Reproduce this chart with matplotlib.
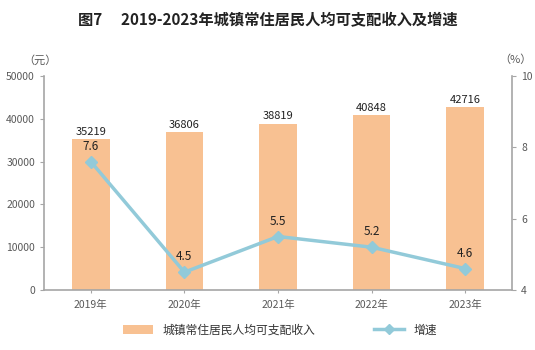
import matplotlib
matplotlib.use("Agg")
import matplotlib.pyplot as plt
from matplotlib.patches import Patch
from matplotlib.lines import Line2D

plt.rcParams['font.family'] = ['Noto Sans CJK SC', 'DejaVu Sans']

years = ["2019年", "2020年", "2021年", "2022年", "2023年"]
income = [35219, 36806, 38819, 40848, 42716]
growth = [7.6, 4.5, 5.5, 5.2, 4.6]

bar_color = "#F8C192"
line_color = "#92CAD9"
axis_color = "#A6A6A6"
tick_color = "#595959"

fig = plt.figure(figsize=(5.35, 3.5), dpi=100)
ax = fig.add_axes([44/535, 1-290/350, 468/535, 214/350])
ax2 = ax.twinx()

x = list(range(len(years)))
ax.bar(x, income, width=0.4, color=bar_color, zorder=2)
for xi, v in zip(x, income):
    ax.text(xi, v + 600, str(v), ha="center", va="bottom", fontsize=8, color="#222222")

ax2.plot(x, growth, color=line_color, lw=2.5, marker="D", ms=6, zorder=3)
for xi, g in zip(x, growth):
    ax2.text(xi, g + 0.25, f"{g}", ha="center", va="bottom", fontsize=8.5, color="#222222")

ax.set_xlim(-0.5, 4.5)
ax.set_ylim(0, 50000)
ax.set_yticks(range(0, 50001, 10000))
ax2.set_ylim(4, 10)
ax2.set_yticks([4, 6, 8, 10])

ax.set_xticks(x)
ax.set_xticklabels(years)

for a in (ax, ax2):
    a.spines["top"].set_visible(False)
    for s in ("left", "right", "bottom"):
        a.spines[s].set_color(axis_color)
        a.spines[s].set_linewidth(1.2)
    a.tick_params(colors=axis_color, labelcolor=tick_color, labelsize=7.5, length=3)
ax.spines["right"].set_visible(False)
ax2.spines["left"].set_visible(False)
ax2.spines["bottom"].set_visible(False)
ax.tick_params(axis="x", length=2, pad=5)

fig.text(40/535, 1-60/350, "（元）", ha="center", va="center", fontsize=8, color=tick_color)
fig.text(515/535, 1-60/350, "（%）", ha="center", va="center", fontsize=8, color=tick_color)

fig.text(268/535, 1-20/350, "图7　 2019-2023年城镇常住居民人均可支配收入及增速",
         ha="center", va="center", fontsize=11, fontweight="bold", color="#222222")

handles = [Patch(facecolor=bar_color, edgecolor="none"),
           Line2D([0], [0], color=line_color, lw=2.5, marker="D", ms=5)]
fig.legend(handles, ["城镇常住居民人均可支配收入", "增速"], loc="center",
           bbox_to_anchor=(280/535, 1-330/350), ncol=2, frameon=False,
           fontsize=8.5, columnspacing=5, handlelength=2.5,
           labelcolor="#333333")

fig.savefig("out.png", dpi=100)
